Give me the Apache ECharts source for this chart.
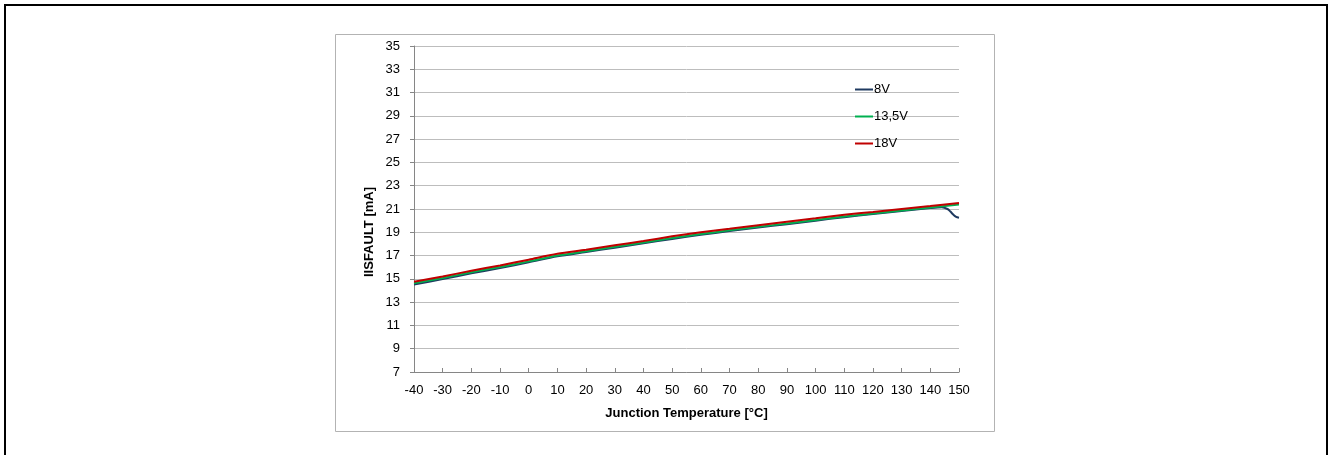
<!DOCTYPE html>
<html>
<head>
<meta charset="utf-8">
<script src="https://cdn.jsdelivr.net/npm/echarts@6/dist/echarts.min.js"></script>
<style>
  html, body { margin: 0; padding: 0; background: #fff; overflow: hidden; }
  #chart { width: 1329px; height: 455px; }
  #frame {
    position: absolute; left: 4px; top: 4px; width: 1320px; height: 520px;
    border: 2px solid #000; pointer-events: none;
  }
</style>
</head>
<body>
<div id="chart"></div>
<div id="frame"></div>
<script>
// junction temperature [°C]
const temps = [-40, -30, -20, -10, 0, 10, 20, 30, 40, 50, 60, 70, 80, 90, 100, 110, 120, 130, 140, 150];
// 8V has a few extra points where it drops near 150 °C
const temps8 = [-40, -30, -20, -10, 0, 10, 20, 30, 40, 50, 60, 70, 80, 90, 100, 110, 120, 130, 140, 144, 146, 147, 148, 149, 150];

// IISFAULT [mA]
const i8V   = [14.52, 14.98, 15.48, 15.93, 16.42, 16.93, 17.30, 17.68, 18.05, 18.43, 18.78, 19.10, 19.40, 19.70, 20.00, 20.30, 20.56, 20.82, 21.08, 21.15, 21.00, 20.78, 20.52, 20.32, 20.25];
const i135V = [14.62, 15.07, 15.57, 16.02, 16.50, 17.00, 17.37, 17.75, 18.12, 18.50, 18.85, 19.17, 19.47, 19.76, 20.06, 20.36, 20.62, 20.88, 21.13, 21.38];
const i18V  = [14.75, 15.20, 15.70, 16.15, 16.65, 17.15, 17.50, 17.88, 18.25, 18.65, 19.00, 19.30, 19.60, 19.90, 20.20, 20.50, 20.75, 21.00, 21.25, 21.52];

const seriesNames = ['8V', '13,5V', '18V'];
const colors = ['#1f3a60', '#00b050', '#c00000'];

const font = '"Liberation Sans", Arial, sans-serif';

function pairs(xs, ys) {
  return xs.map((x, i) => [x, ys[i]]);
}

let chart = echarts.init(document.getElementById('chart'));

let option = {
  animation: false,
  color: colors,
  grid: { left: 414, right: 370, top: 46, bottom: 83 },
  legend: {
    data: seriesNames,
    orient: 'vertical',
    left: 855,
    top: 83,
    padding: 0,
    itemWidth: 18,
    itemHeight: 2,
    itemGap: 14,
    icon: 'rect',
    textStyle: { fontFamily: font, fontSize: 13, color: '#000', padding: [0, 0, 0, -4] }
  },
  xAxis: {
    type: 'value',
    min: -40,
    max: 150,
    interval: 10,
    name: 'Junction Temperature [°C]',
    nameLocation: 'middle',
    nameGap: 35,
    nameTextStyle: { fontFamily: font, fontSize: 13, fontWeight: 'bold', color: '#000' },
    axisLine: { onZero: false, lineStyle: { color: '#868686', width: 1 } },
    axisTick: { show: true, inside: true, length: 4, lineStyle: { color: '#868686' } },
    axisLabel: { margin: 12, fontFamily: font, fontSize: 13, color: '#000' },
    splitLine: { show: false }
  },
  yAxis: {
    type: 'value',
    min: 7,
    max: 35,
    interval: 2,
    axisLine: { show: true, onZero: false, lineStyle: { color: '#868686', width: 1 } },
    axisTick: { show: true, length: 4, lineStyle: { color: '#868686' } },
    axisLabel: { margin: 14, fontFamily: font, fontSize: 13, color: '#000' },
    splitLine: { lineStyle: { color: '#bdbdbd', width: 1 } }
  },
  graphic: [
    {
      type: 'rect',
      shape: { x: 335.5, y: 34.5, width: 659, height: 397 },
      style: { fill: null, stroke: '#b3b3b3', lineWidth: 1 },
      z: -1
    },
    {
      type: 'text',
      x: 369,
      y: 232,
      rotation: Math.PI / 2,
      style: {
        text: 'IISFAULT [mA]',
        fontFamily: font, fontSize: 13, fontWeight: 'bold', fill: '#000',
        align: 'center', verticalAlign: 'middle'
      }
    }
  ],
  series: [
    {
      name: '8V', type: 'line', smooth: 0.3, showSymbol: false, symbol: 'none',
      lineStyle: { width: 2 }, data: pairs(temps8, i8V), z: 2
    },
    {
      name: '13,5V', type: 'line', smooth: 0.3, showSymbol: false, symbol: 'none',
      lineStyle: { width: 2 }, data: pairs(temps, i135V), z: 3
    },
    {
      name: '18V', type: 'line', smooth: 0.3, showSymbol: false, symbol: 'none',
      lineStyle: { width: 2 }, data: pairs(temps, i18V), z: 4
    }
  ]
};

chart.setOption(option);
</script>
</body>
</html>
